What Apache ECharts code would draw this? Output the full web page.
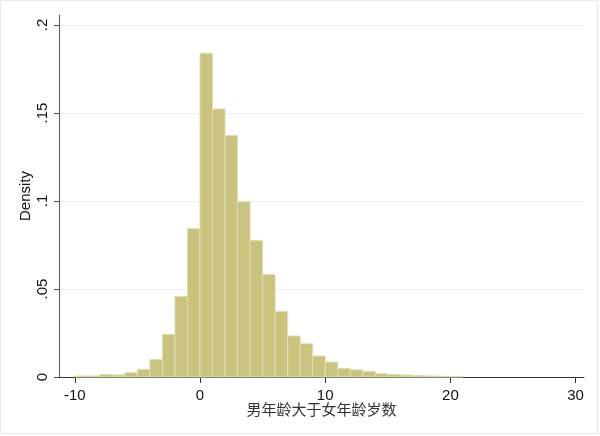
<!DOCTYPE html>
<html>
<head>
<meta charset="utf-8">
<script src="https://cdn.jsdelivr.net/npm/echarts@6/dist/echarts.min.js"></script>
<style>
html,body{margin:0;padding:0;background:#fff;}
#c{width:600px;height:436px;}
</style>
</head>
<body>
<div id="c"></div>
<script>
// Histogram bins (left edge, width 1) and densities
var binStarts = [-10,-9,-8,-7,-6,-5,-4,-3,-2,-1,0,1,2,3,4,5,6,7,8,9,10,11,12,13,14,15,16,17,18,19,20];
var densities = [0.0006,0.0006,0.0014,0.0012,0.0026,0.0044,0.0099,0.0243,0.0458,0.0843,0.184,0.1523,0.1373,0.0996,0.0775,0.0583,0.0373,0.0233,0.0189,0.0119,0.0085,0.0049,0.0041,0.0032,0.0019,0.0015,0.0011,0.0008,0.0006,0.0004,0.0003];
var binWidth = 1;
var xTicks = [-10,0,10,20,30];
var yTicks = [0,0.05,0.1,0.15,0.2];
var xTitle = '男年龄大于女年龄岁数';
var yTitle = 'Density';

var data = binStarts.map(function(s,i){ return [s, s+binWidth, densities[i]]; });

var chart = echarts.init(document.getElementById('c'), null, {renderer:'canvas'});
var fontLatin = '"Liberation Sans", Arial, sans-serif';
chart.setOption({
  animation:false,
  backgroundColor:'#ffffff',
  graphic:[{
    type:'rect', silent:true, z:-1,
    shape:{x:0.5,y:0.5,width:597,height:433},
    style:{fill:'none',stroke:'#e4ecee',lineWidth:1}
  }],
  grid:{left:59,right:16,top:15,bottom:59,containLabel:false},
  xAxis:{
    type:'value', min:-11.26, max:30.67,
    name:xTitle, nameLocation:'middle', nameGap:25, nameMoveOverlap:false,
    nameTextStyle:{fontFamily:'"Noto Sans CJK SC", sans-serif',fontSize:15,color:'#333'},
    axisLine:{show:true,onZero:false,lineStyle:{color:'#333',width:1}},
    axisTick:{show:true,length:6,lineStyle:{color:'#333'},customValues:xTicks},
    axisLabel:{show:true,margin:11,fontFamily:fontLatin,fontSize:15,color:'#111',customValues:xTicks},
    splitLine:{show:false}
  },
  yAxis:{
    type:'value', min:0, max:0.2057,
    name:yTitle, nameLocation:'middle', nameGap:26, nameRotate:90, nameMoveOverlap:false,
    nameTextStyle:{fontFamily:fontLatin,fontSize:15,color:'#111'},
    axisLine:{show:true,onZero:false,lineStyle:{color:'#555',width:1}},
    axisTick:{show:true,length:5,lineStyle:{color:'#555'},customValues:yTicks},
    axisLabel:{show:true,rotate:90,margin:9,fontFamily:fontLatin,fontSize:15,color:'#111',
      customValues:yTicks,
      formatter:function(v){ if(v===0) return '0'; return String(+v.toFixed(2)).replace(/^0\./,'.'); }},
    splitLine:{show:true,lineStyle:{color:'#e6eeee',width:1}}
  },
  series:[{
    type:'custom',
    data:data,
    encode:{x:[0,1],y:2},
    renderItem:function(params, api){
      var p0 = api.coord([api.value(0), api.value(2)]);
      var p1 = api.coord([api.value(1), 0]);
      return {
        type:'rect',
        shape:{x:p0[0], y:p0[1], width:p1[0]-p0[0], height:p1[1]-p0[1]},
        style:{fill:'#c9c37f', stroke:'#e2deb2', lineWidth:1}
      };
    }
  }]
});
</script>
</body>
</html>
